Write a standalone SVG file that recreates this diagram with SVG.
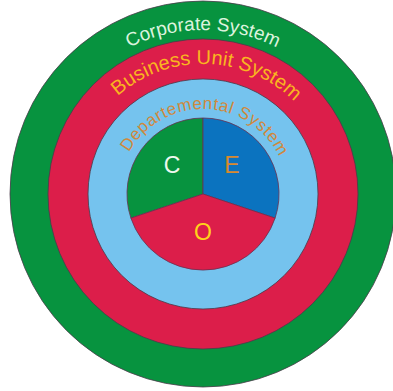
<svg xmlns="http://www.w3.org/2000/svg" width="393" height="391" viewBox="0 0 393 391">
  <style>
    .ring { stroke: #4a3b4a; stroke-width: 0.8; }
    .slice { stroke: #6a3050; stroke-width: 0.8; stroke-linejoin: round; }
    .label { font-family: "Liberation Sans", Arial, sans-serif; }
  </style>
  <defs>
    <!-- baselines for the curved ring captions, all centred on the common centre -->
    <path id="arc-corporate" d="M 39,194 A 164,164 0 0 1 367,194"/>
    <path id="arc-business" d="M 73,194 A 130,130 0 0 1 333,194"/>
    <path id="arc-department" d="M 118,194 A 85,85 0 0 1 288,194"/>
  </defs>
  <rect width="393" height="391" fill="#ffffff"/>

  <g id="corporate-system">
    <circle class="ring" cx="203" cy="194" r="193" fill="#07933f"/>
    <text class="label" font-size="19" fill="#dcf3de" text-anchor="middle">
      <textPath href="#arc-corporate" startOffset="50%">Corporate System</textPath>
    </text>
  </g>

  <g id="business-unit-system">
    <circle class="ring" cx="203" cy="194" r="155" fill="#dc1e4a"/>
    <text class="label" font-size="20" fill="#f9b520" text-anchor="middle">
      <textPath href="#arc-business" startOffset="51%">Business Unit System</textPath>
    </text>
  </g>

  <g id="departemental-system">
    <circle class="ring" cx="203" cy="194" r="115" fill="#75c3ee"/>
    <text class="label" font-size="17" fill="#d0893d" text-anchor="middle" letter-spacing="0.6">
      <textPath href="#arc-department" startOffset="51%">Departemental System</textPath>
    </text>
  </g>

  <g id="ceo">
    <g id="slice-c">
      <path class="slice" d="M 203,194 L 203,118 A 76,76 0 0 0 130.9,218.1 Z" fill="#07933f"/>
      <text class="label" x="172" y="173" font-size="23" fill="#eef8ee" text-anchor="middle">C</text>
    </g>
    <g id="slice-e">
      <path class="slice" d="M 203,194 L 203,118 A 76,76 0 0 1 275.1,218.1 Z" fill="#0b73bf"/>
      <text class="label" x="232" y="173" font-size="23" fill="#d98a2e" text-anchor="middle">E</text>
    </g>
    <g id="slice-o">
      <path class="slice" d="M 203,194 L 275.1,218.1 A 76,76 0 0 1 130.9,218.1 Z" fill="#dc1e4a"/>
      <text class="label" x="203" y="240" font-size="23" fill="#ffd21a" text-anchor="middle">O</text>
    </g>
  </g>
</svg>
